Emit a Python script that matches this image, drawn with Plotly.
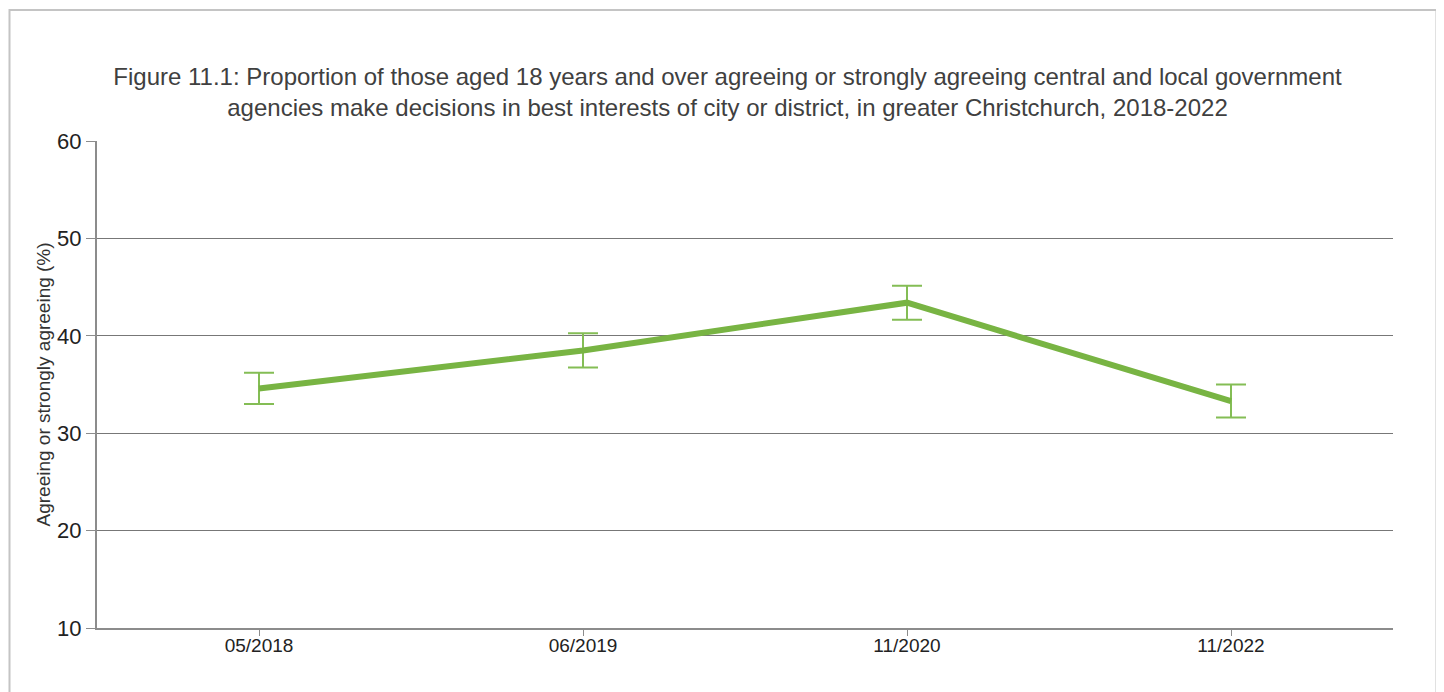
import plotly.graph_objects as go

categories = ["05/2018", "06/2019", "11/2020", "11/2022"]
values = [34.6, 38.5, 43.4, 33.3]
errors = [1.6, 1.75, 1.75, 1.7]
y_ticks = [10, 20, 30, 40, 50, 60]

title_text = ("Figure 11.1: Proportion of those aged 18 years and over agreeing or strongly agreeing central and local government"
              "<br>agencies make decisions in best interests of city or district, in greater Christchurch, 2018-2022")
y_title = "Agreeing or strongly agreeing (%)"

# page is offset by the default 8px body margin
OFF = 8
W, H = 1444 - OFF, 692 - OFF
L, R, T, B = 97 - OFF, 51, 141 - OFF, 64
pw, ph = W - L - R, H - T - B


def px_x(p):
    return (p - OFF - L) / pw


def px_y(p):
    return (H - B - (p - OFF)) / ph


fig = go.Figure()
fig.add_trace(go.Scatter(
    x=categories, y=values, mode="lines",
    line=dict(color="#78b443", width=6),
    error_y=dict(type="data", array=errors, visible=True, color="#84bd55", thickness=2, width=15),
    showlegend=False,
))

fig.update_layout(
    width=W, height=H,
    margin=dict(l=L, r=R, t=T, b=B),
    paper_bgcolor="white", plot_bgcolor="white",
    font=dict(family="Liberation Sans, Arial, sans-serif", color="#333333"),
    title=dict(text=title_text, x=(727.5 - OFF) / W, xanchor="center", xref="container",
               y=1 - (85 - OFF) / H, yanchor="middle", yref="container",
               font=dict(size=24, color="#404040")),
    xaxis=dict(type="category", showgrid=False, showline=True, linecolor="#8c8c8c", linewidth=2,
               ticks="outside", ticklen=6, tickcolor="#8c8c8c", tickwidth=1,
               ticklabelstandoff=-7,
               tickfont=dict(size=19, color="#222222"), range=[-0.5, 3.5], fixedrange=True),
    yaxis=dict(range=[10, 60], tickvals=y_ticks, showgrid=True, gridcolor="#777777", gridwidth=1,
               showline=True, linecolor="#8c8c8c", linewidth=2,
               ticks="outside", ticklen=9, tickcolor="#8c8c8c",
               tickfont=dict(size=22, color="#222222"),
               zeroline=False),
    annotations=[dict(text=y_title, textangle=-90, xref="paper", yref="paper",
                      x=px_x(43), y=px_y(384.5), xanchor="center", yanchor="middle",
                      showarrow=False, font=dict(size=19, color="#333333"))],
    shapes=[dict(type="rect", xref="paper", yref="paper",
                 x0=px_x(9.5), x1=px_x(1436.5), y0=px_y(700), y1=px_y(10),
                 line=dict(color="#c4c4c4", width=2), fillcolor="rgba(0,0,0,0)", layer="below")],
)

fig.write_html("out.html")
